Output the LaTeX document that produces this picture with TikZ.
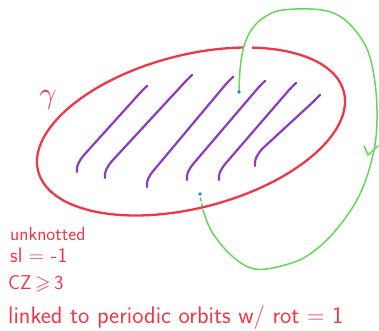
\documentclass[tikz,border=0pt]{standalone}
\usepackage{amssymb}
\usetikzlibrary{calc}
\definecolor{penred}{RGB}{240,55,72}
\definecolor{penpurple}{RGB}{142,58,192}
\definecolor{pengreen}{RGB}{104,212,92}
\definecolor{penblue}{RGB}{30,130,230}
\tikzset{
  redpen/.style={draw=penred, line width=2.3pt},
  purplepen/.style={draw=penpurple, line width=2.2pt, line cap=round},
  greenpen/.style={draw=pengreen, line width=1.5pt, line cap=round, line join=round},
  dot/.style={fill=penblue, draw=none},
  note/.style={text=penred, anchor=base west, inner sep=0pt},
}
\begin{document}
\begin{tikzpicture}[x=1pt,y=-1pt]
\useasboundingbox (0,0) rectangle (379,330);
% dashed green part behind the loop
\coordinate (endB) at (200,194);
\coordinate (startA) at (239,92);
\draw[greenpen, dash pattern=on 3pt off 3pt] (200.5,198) -- (203,210);
% red curve gamma
\draw[redpen, rotate around={14.6:(191,131.5)}] (191,131.5) ellipse [x radius=157.9, y radius=76.4];
\fill[white] (243.5,43) rectangle (251.5,53);
% purple strokes
\foreach \bx/\by/\tx/\ty in {77/172/147/86, 105/178/192/75, 147/187/233/77, 187/180/265/81, 219/180/296/83, 255/166/320/95}{
  \draw[purplepen] (\bx,\by) .. controls (\bx-1,\by-6) and (\bx+2,\by-11) .. (\bx+7,\by-17) -- (\tx-7,\ty+7) .. controls (\tx-4,\ty+4) and (\tx-2,\ty+1.5) .. (\tx,\ty);
}
% green orbit
\draw[greenpen] plot[smooth, tension=0.6] coordinates {(startA) (240,70) (243,50) (250,32) (263,18) (283,10) (322,10) (345,20) (364,43) (373,70) (377,110) (374,150) (360,194) (336,230) (310,254) (285,265) (255,269) (232,256) (212,232) (203,210)};
\draw[greenpen] (364,146) -- (368,155) -- (378,146);
% blue dots
\fill[dot] (startA) circle (1.9);
\fill[dot] (endB) circle (1.9);
% labels
\node[text=penred, scale=3, inner sep=0pt] (gam) at (48,100) {$\gamma$};
\node[note, font=\sffamily\fontsize{19}{19}\selectfont] (l1) at (10,240) {unknotted};
\node[note, font=\sffamily\fontsize{21}{21}\selectfont] (l2) at (10,262) {sl = -1};
\node[note, font=\sffamily\fontsize{20}{20}\selectfont] (l3) at (8,289) {CZ$\,\geqslant\,$3};
\node[note, font=\sffamily\fontsize{24}{24}\selectfont] (l4) at (8,323) {linked to periodic orbits w/ rot = 1};
\end{tikzpicture}
\end{document}
